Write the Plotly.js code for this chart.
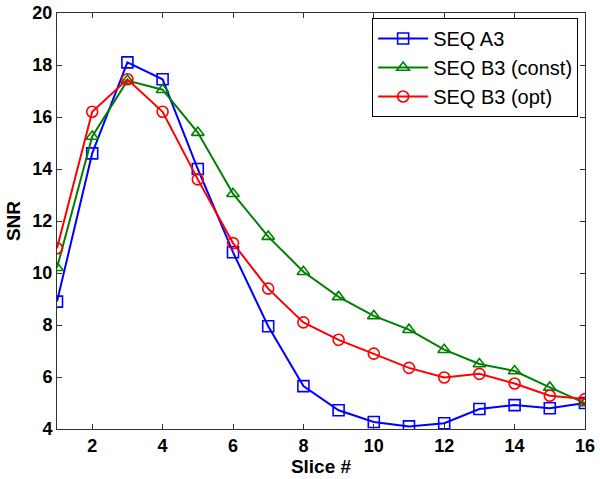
<!DOCTYPE html>
<html><head><meta charset="utf-8">
<script src="https://cdn.plot.ly/plotly-3.0.1.min.js"></script>
<style>html,body{margin:0;padding:0;background:#fff}#c{width:600px;height:479px}</style>
</head><body><div id="c"></div>
<script>
const slices = [1,2,3,4,5,6,7,8,9,10,11,12,13,14,15,16];
const seqA3 = [8.9, 14.6, 18.1, 17.45, 14.0, 10.8, 7.95, 5.65, 4.72, 4.27, 4.1, 4.22, 4.77, 4.92, 4.8, 5.0];
const seqB3const = [10.2, 15.25, 17.4, 17.05, 15.4, 13.05, 11.4, 10.05, 9.08, 8.35, 7.82, 7.05, 6.5, 6.23, 5.6, 5.0];
const seqB3opt = [10.95, 16.2, 17.45, 16.2, 13.6, 11.15, 9.4, 8.1, 7.43, 6.9, 6.35, 5.98, 6.12, 5.75, 5.28, 5.15];
const names = ['SEQ A3', 'SEQ B3 (const)', 'SEQ B3 (opt)'];
const xTicks = [2,4,6,8,10,12,14,16];
const yTicks = [4,6,8,10,12,14,16,18,20];

const mk = (y, name, color, sym) => ({
  x: slices, y: y, name: name, type: 'scatter', mode: 'lines+markers',
  line: {color: color, width: 2},
  marker: {symbol: sym, size: 11, color: color, line: {color: color, width: 1.6}}
});
const data = [
  mk(seqA3, names[0], '#0000ff', 'square-open'),
  mk(seqB3const, names[1], '#008000', 'triangle-up-open'),
  mk(seqB3opt, names[2], '#ff0000', 'circle-open')
];
const tickFont = {family: 'Liberation Sans, Arial, sans-serif', size: 18, color: '#000', weight: 'bold'};
const titleFont = {family: 'Liberation Sans, Arial, sans-serif', size: 19, color: '#000', weight: 'bold'};
const layout = {
  width: 600, height: 479,
  margin: {l: 57, r: 15, t: 13, b: 50},
  paper_bgcolor: '#fff', plot_bgcolor: '#fff',
  showlegend: true,
  legend: {x: 0.987, y: 0.988, xanchor: 'right', yanchor: 'top',
    bordercolor: '#000', borderwidth: 1, bgcolor: '#fff',
    font: {family: 'Liberation Sans, Arial, sans-serif', size: 20, color: '#000'},
    itemwidth: 50, tracegroupgap: 0},
  xaxis: {range: [1, 16], tickvals: xTicks, ticks: 'inside', ticklen: 5, tickcolor: '#333',
    showline: true, linecolor: '#333', linewidth: 1, mirror: 'ticks', showgrid: false, zeroline: false,
    tickfont: tickFont, title: {text: 'Slice #', font: titleFont, standoff: 4}},
  yaxis: {range: [4, 20], tickvals: yTicks, ticks: 'inside', ticklen: 5, tickcolor: '#333',
    showline: true, linecolor: '#333', linewidth: 1, mirror: 'ticks', showgrid: false, zeroline: false,
    tickfont: tickFont, title: {text: 'SNR', font: titleFont, standoff: 6}}
};
Plotly.newPlot('c', data, layout, {displayModeBar: false, staticPlot: true});
</script></body></html>
